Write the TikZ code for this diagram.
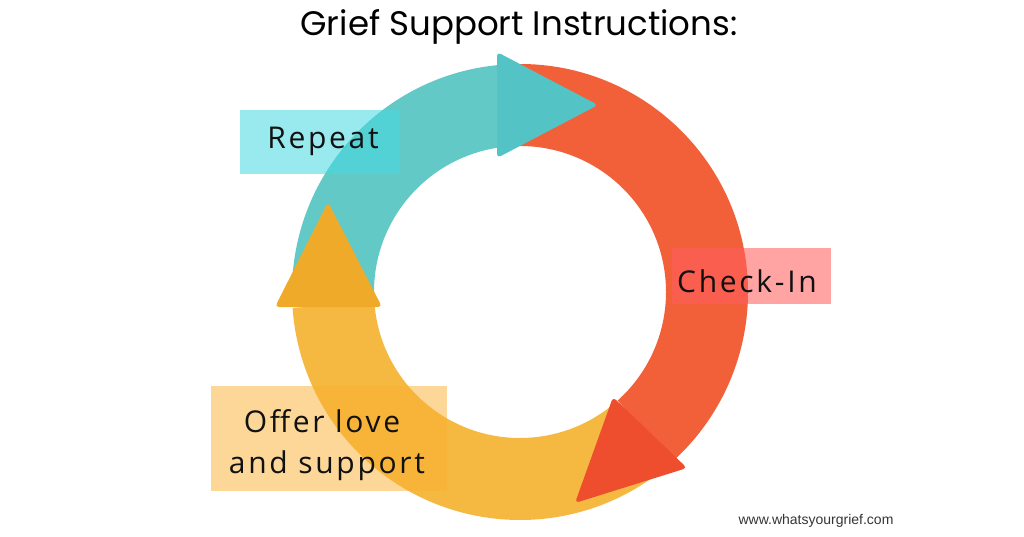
\documentclass[tikz,border=0pt]{standalone}
\usepackage{fontspec}
\setmainfont{Open Sans}
\newfontfamily\titlefont{Poppins}
\newfontfamily\labelfont[LetterSpace=9]{Open Sans}
\newfontfamily\urlfont{Liberation Sans}
\definecolor{tealband}{HTML}{63C9C6}
\definecolor{tealtri}{HTML}{54C3C6}
\definecolor{orangeband}{HTML}{F26039}
\definecolor{orangetri}{HTML}{EF4E2E}
\definecolor{yellowband}{HTML}{F5B942}
\definecolor{yellowtri}{HTML}{F0AA29}
\definecolor{repeatbox}{HTML}{44DAE1}
\definecolor{checkbox}{HTML}{FF5E5E}
\definecolor{offerbox}{HTML}{FBB131}
\definecolor{textc}{HTML}{111111}
\tikzset{
  tri/.style={rounded corners=4pt},
  labelbox/.style={inner sep=0pt, text=textc, font=\labelfont\fontsize{30}{41}\selectfont},
}
\begin{document}
\begin{tikzpicture}[x=1pt,y=1pt]
\useasboundingbox (0,0) rectangle (1024,536);
\fill[white] (0,0) rectangle (1024,536);
\node[font=\titlefont\fontsize{34}{40}\selectfont, anchor=base, text=black, inner sep=0pt] (title) at (519,500) {Grief Support Instructions:};
\begin{scope}[shift={(520,244)}]
  % bands
  \fill[orangeband] (92:228) arc[start angle=92,end angle=-48,radius=228] -- (-48:146) arc[start angle=-48,end angle=92,radius=146] -- cycle;
  \fill[tealband] (181:228) arc[start angle=181,end angle=93,radius=228] -- (93:146) arc[start angle=93,end angle=181,radius=146] -- cycle;
  \fill[yellowband] (-50:228) arc[start angle=-50,end angle=-176,radius=228] -- (-176:146) arc[start angle=-176,end angle=-50,radius=146] -- cycle;
  % arrowheads
  \fill[tealtri, tri] (-23,240) -- (78,187) -- (-23,134) -- cycle;
  \fill[orangetri, tri] (93,-105) -- (167,-176) -- (55,-211) -- cycle;
  \fill[yellowtri, tri] (-245,-15) -- (-192,90) -- (-138,-15) -- cycle;
\end{scope}
% label boxes
\fill[repeatbox, fill opacity=0.54] (240,362) rectangle (400,426);
\fill[checkbox, fill opacity=0.57] (672,232) rectangle (831,288);
\fill[offerbox, fill opacity=0.5] (211,45) rectangle (447,150);
\node[labelbox, anchor=base] (repeat) at (323,387) {Repeat};
\node[labelbox, anchor=base] (checkin) at (747,244) {Check-In};
\node[labelbox, anchor=base] (offer1) at (322,104) {Offer love};
\node[labelbox, anchor=base] (offer2) at (327,63) {and support};
\node[font=\urlfont\fontsize{14}{16}\selectfont, anchor=base, text=textc!85, inner sep=0pt] (url) at (816,12) {www.whatsyourgrief.com};
\end{tikzpicture}
\end{document}
